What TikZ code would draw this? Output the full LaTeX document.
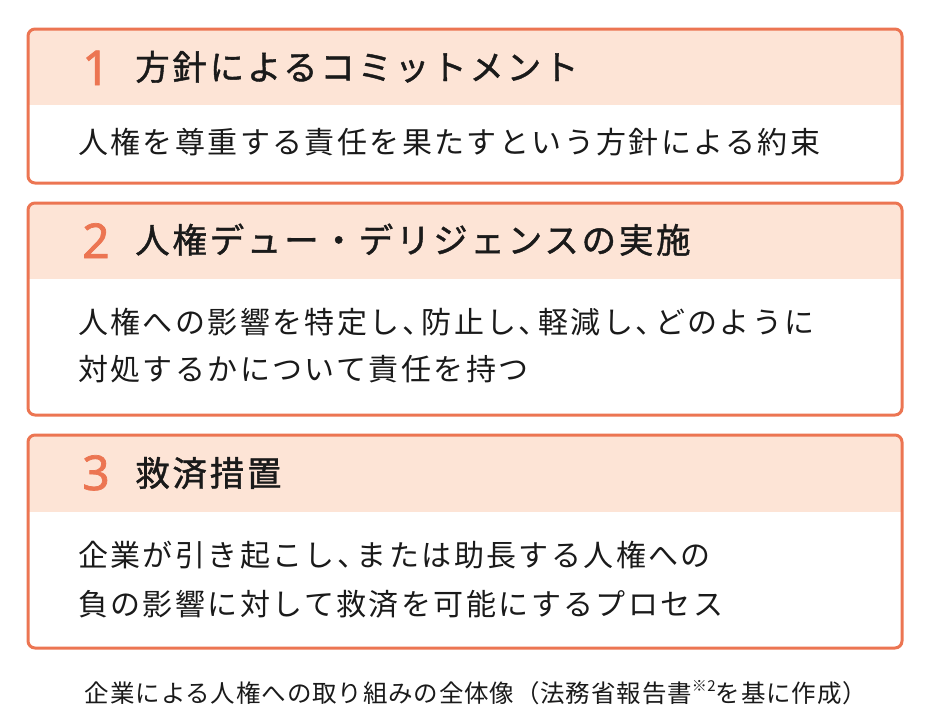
\documentclass[tikz,border=0pt]{standalone}
\usepackage{fontspec}
\setmainfont{Noto Sans CJK JP}
\newfontfamily\numfont[FakeBold=1.5]{Noto Sans}
\newfontfamily\headfont[FakeBold=1.2,LetterSpace=8]{Noto Sans CJK JP}
\newfontfamily\bodyfont[LetterSpace=8]{Noto Sans CJK JP}
\newfontfamily\capfont[LetterSpace=3.5]{Noto Sans CJK JP}
\definecolor{frame}{HTML}{EC7552}
\definecolor{headbg}{HTML}{FDE4D6}
\definecolor{ink}{HTML}{1A1A1A}
% half-width comma
\newcommand{\tten}{、\kern-0.35em}

\tikzset{
  numtext/.style = {anchor=base, inner sep=0pt, text=frame,
    font=\numfont\fontsize{48pt}{48pt}\selectfont},
  headtext/.style = {anchor=base west, inner sep=0pt, text=ink,
    font=\headfont\fontsize{34.5pt}{34.5pt}\selectfont},
  bodytext/.style = {anchor=base west, inner sep=0pt, text=ink,
    font=\bodyfont\fontsize{30pt}{30pt}\selectfont},
  captext/.style = {anchor=base, inner sep=0pt, text=ink,
    font=\capfont\fontsize{24.5pt}{24.5pt}\selectfont},
  boxframe/.style = {draw=frame, line width=3pt, rounded corners=7pt}
}

\begin{document}
\begin{tikzpicture}[x=1pt, y=-1pt]
\useasboundingbox (0,0) rectangle (933,721);
% box 1
\begin{scope}
\clip[rounded corners=7pt] (28,29) rectangle (902,183);
\fill[headbg] (28,29) rectangle (902,105);
\end{scope}
\draw[boxframe] (28,29) rectangle (902,183);
\node[numtext] (num1) at (96,85) {1};
\node[headtext] (head1) at (135,80) {方針によるコミットメント};
\node[bodytext] (body1) at (78,153) {人権を尊重する責任を果たすという方針による約束};
% box 2
\begin{scope}
\clip[rounded corners=7pt] (28,203) rectangle (902,415);
\fill[headbg] (28,203) rectangle (902,279);
\end{scope}
\draw[boxframe] (28,203) rectangle (902,415);
\node[numtext] (num2) at (96,258) {2};
\node[headtext] (head2) at (135,253) {人権デュー・デリジェンスの実施};
\node[bodytext] (body2) at (78,333) {人権への影響を特定し\tten 防止し\tten 軽減し\tten どのように};
\node[bodytext] (body2b) at ([yshift=-47pt]body2.base west) {対処するかについて責任を持つ};
% box 3
\begin{scope}
\clip[rounded corners=7pt] (28,435) rectangle (902,648);
\fill[headbg] (28,435) rectangle (902,512);
\end{scope}
\draw[boxframe] (28,435) rectangle (902,648);
\node[numtext] (num3) at (96,490) {3};
\node[headtext] (head3) at (135,486) {救済措置};
\node[bodytext] (body3) at (78,566) {企業が引き起こし\tten または助長する人権への};
\node[bodytext] (body3b) at ([yshift=-49pt]body3.base west) {負の影響に対して救済を可能にするプロセス};
% caption
\node[captext] (caption) at (476,702) {企業による人権への取り組みの全体像（法務省報告書\raisebox{0.42em}{\fontsize{15pt}{15pt}\selectfont ※2}を基に作成）};
\end{tikzpicture}
\end{document}
